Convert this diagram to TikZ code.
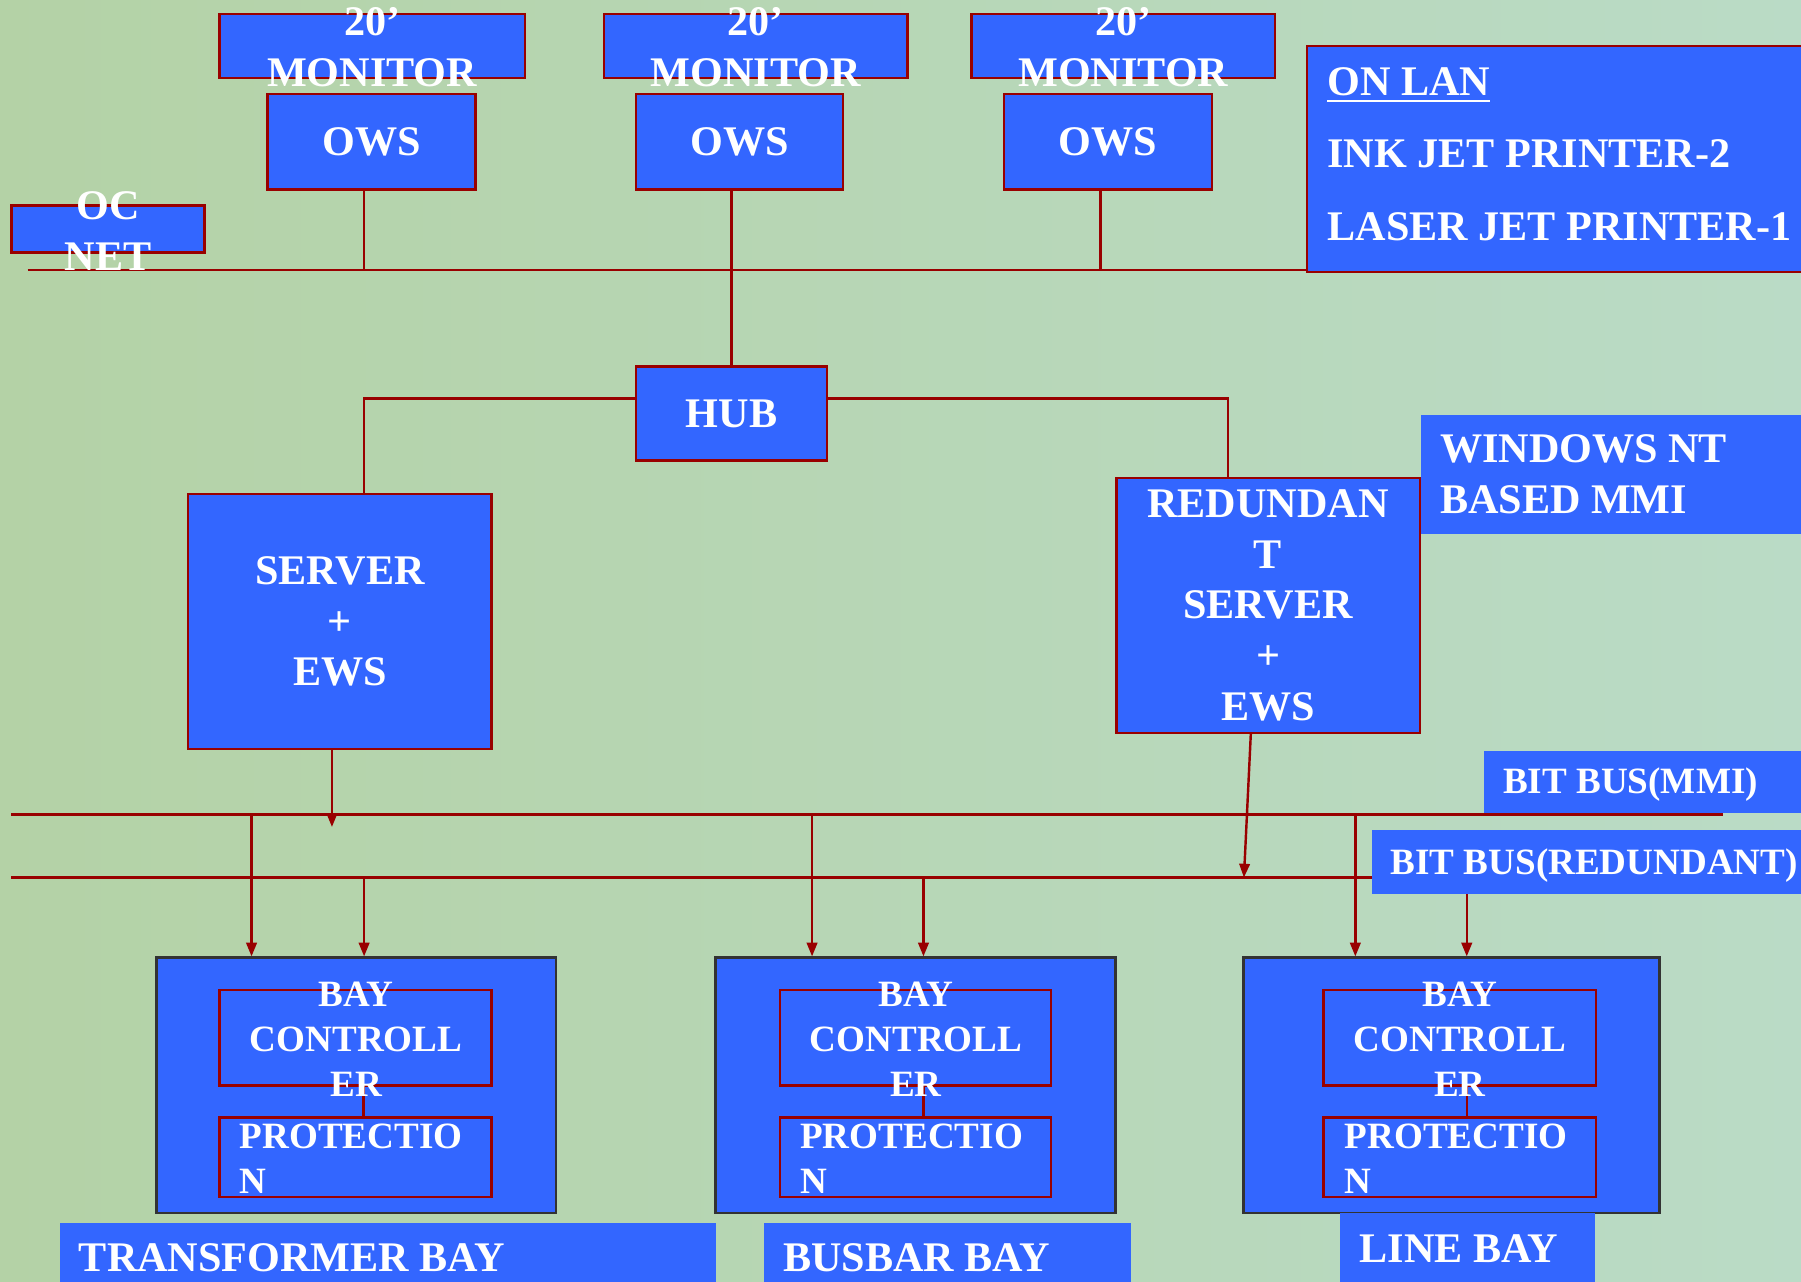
\documentclass[tikz,border=0pt]{standalone}
\usepackage{fontspec}
\setmainfont{Liberation Serif}
\usetikzlibrary{arrows.meta,backgrounds}

\definecolor{panelblue}{RGB}{51,102,255}
\definecolor{wirered}{RGB}{153,0,0}
\definecolor{baygrey}{RGB}{51,51,51}
\definecolor{bgleft}{RGB}{180,210,166}
\definecolor{bgmid}{RGB}{200,222,192}
\definecolor{bgright}{RGB}{186,219,198}

\newcommand\lblbig{\fontsize{10.44pt}{12.52pt}\selectfont\bfseries}
\newcommand\lblsmall{\fontsize{9.19pt}{11.1pt}\selectfont\bfseries}
\newcommand\lblwide{\fontsize{10.44pt}{17.93pt}\selectfont\bfseries}

\tikzset{
  panel/.style={draw=wirered, fill=panelblue, line width=0.6pt, inner sep=0pt,
    text=white, font=\lblbig, align=center},
  plate/.style={fill=panelblue, inner sep=0pt},
  baybox/.style={draw=baygrey, fill=panelblue, line width=0.7pt, inner sep=0pt},
  boxtext/.style={text=white, font=\lblbig, inner sep=0pt, align=center},
  boxtextsm/.style={text=white, font=\lblsmall, inner sep=0pt, align=center},
  link/.style={draw=wirered, line width=0.6pt},
  busdrop/.style={link, -{Triangle[length=3.4pt,width=2.6pt]}},
}

\begin{document}
\begin{tikzpicture}[x=0.01cm, y=-0.01cm]
\useasboundingbox (0,0) rectangle (1568,1116);
\begin{pgfonlayer}{background}
\shade[left color=bgleft, middle color=bgmid, right color=bgright] (0,0) rectangle (1568,1116);
\end{pgfonlayer}
\clip (0,0) rectangle (1568,1116);

% workstations
\node[panel, minimum width=2.66cm, minimum height=0.56cm] (mon1) at (324,40) {};
\node[panel, minimum width=2.64cm, minimum height=0.56cm] (mon2) at (658,40) {};
\node[panel, minimum width=2.64cm, minimum height=0.56cm] (mon3) at (978,40) {};
\node[panel, minimum width=1.81cm, minimum height=0.83cm] (ows1) at (323.5,123.5) {OWS};
\node[panel, minimum width=1.80cm, minimum height=0.83cm] (ows2) at (644,123.5) {OWS};
\node[panel, minimum width=1.81cm, minimum height=0.83cm] (ows3) at (964.5,123.5) {OWS};
\node[panel, minimum width=1.68cm, minimum height=0.41cm] (ocnet) at (94,199.5) {};
\node[panel, minimum width=4.42cm, minimum height=1.97cm] (onlan) at (1359,138.5) {};

% hub and servers
\node[panel, minimum width=1.66cm, minimum height=0.82cm] (hub) at (637,360) {HUB};
\node[panel, minimum width=2.64cm, minimum height=2.22cm] (server) at (296,541) {SERVER\\+\\EWS};
\node[panel, minimum width=2.64cm, minimum height=2.22cm] (rserver) at (1104,527)
  {REDUNDAN\\T\\SERVER\\+\\EWS};
\node[plate, minimum width=3.43cm, minimum height=1.04cm] (winnt) at (1408.5,413) {};
\node[plate, minimum width=2.88cm, minimum height=0.54cm] (mmitag) at (1436,681) {};
\node[plate, minimum width=3.85cm, minimum height=0.55cm] (redtag) at (1387.5,750.5) {};

% bays
\node[baybox, minimum width=3.48cm, minimum height=2.22cm] (tbay) at (310,945) {};
\node[panel, minimum width=2.37cm, minimum height=0.83cm] (tctrl) at (309.5,903.5) {};
\node[panel, minimum width=2.37cm, minimum height=0.69cm] (tprot) at (309.5,1007.5) {};
\node[baybox, minimum width=3.48cm, minimum height=2.22cm] (bbay) at (797,945) {};
\node[panel, minimum width=2.36cm, minimum height=0.83cm] (bctrl) at (797,903.5) {};
\node[panel, minimum width=2.36cm, minimum height=0.69cm] (bprot) at (797,1007.5) {};
\node[baybox, minimum width=3.62cm, minimum height=2.22cm] (lbay) at (1264,945) {};
\node[panel, minimum width=2.37cm, minimum height=0.83cm] (lctrl) at (1271,903.5) {};
\node[panel, minimum width=2.37cm, minimum height=0.69cm] (lprot) at (1271,1007.5) {};
\draw[link] ([xshift=0.07cm]tctrl.south) -- ([xshift=0.07cm]tprot.north);
\draw[link] ([xshift=0.07cm]bctrl.south) -- ([xshift=0.07cm]bprot.north);
\draw[link] ([xshift=0.06cm]lctrl.south) -- ([xshift=0.06cm]lprot.north);
\node[plate, minimum width=5.71cm, minimum height=0.60cm] (ttag) at (337.5,1095) {};
\node[plate, minimum width=3.20cm, minimum height=0.60cm] (btag) at (825,1095) {};
\node[plate, minimum width=2.22cm, minimum height=0.69cm] (ltag) at (1278,1090.5) {};

% texts
\node[boxtext] (mon1txt) at (324,41) {20’\\MONITOR};
\node[boxtext] (mon2txt) at (658,41) {20’\\MONITOR};
\node[boxtext] (mon3txt) at (978,41) {20’\\MONITOR};
\node[boxtext] (ocnettxt) at (94,201) {OC\\NET};
\node[boxtext, font=\lblwide, align=left, anchor=west] (onlantxt) at (1155,134)
  {\underline{ON LAN}\\INK JET PRINTER-2\\LASER JET PRINTER-1};
\node[boxtext, align=left, anchor=west] (winnttxt) at (1253,413) {WINDOWS NT\\BASED MMI};
\node[boxtextsm, anchor=base west] (mmitxt) at (1308,691) {BIT BUS(MMI)};
\node[boxtextsm, anchor=base west] (redtxt) at (1210,761) {BIT BUS(REDUNDANT)};
\node[boxtextsm] (tctrltxt) at (310,905) {BAY\\CONTROLL\\ER};
\node[boxtextsm] (bctrltxt) at (797.5,905) {BAY\\CONTROLL\\ER};
\node[boxtextsm] (lctrltxt) at (1271,905) {BAY\\CONTROLL\\ER};
\node[boxtextsm, align=left, anchor=west] (tprottxt) at (208,1009) {PROTECTIO\\N};
\node[boxtextsm, align=left, anchor=west] (bprottxt) at (696,1009) {PROTECTIO\\N};
\node[boxtextsm, align=left, anchor=west] (lprottxt) at (1170,1009) {PROTECTIO\\N};
\node[boxtext, anchor=base west] (ttagtxt) at (68,1107) {TRANSFORMER BAY};
\node[boxtext, anchor=base west] (btagtxt) at (681,1107) {BUSBAR BAY};
\node[boxtext, anchor=base west] (ltagtxt) at (1183,1099) {LINE BAY};

% networks
\coordinate (lanL) at (24,235);
\coordinate (mmiL) at (10,709);
\coordinate (mmiR) at (1500,709);
\coordinate (redL) at (10,764);
\coordinate (srvtip) at (289,720);
\coordinate (rsrvtip) at (1083,764);
\coordinate (ows1tap) at ([xshift=-0.065cm]ows1.south);
\coordinate (ows3tap) at ([xshift=-0.065cm]ows3.south);
\coordinate (srvtop) at ([xshift=0.21cm]server.north);
\coordinate (rsrvtop) at ([xshift=-0.35cm]rserver.north);
\coordinate (rsrvbot) at ([xshift=-0.15cm]rserver.south);
\coordinate (tmmi) at (219,709);
\coordinate (tred) at (317,764);
\coordinate (bmmi) at (707,709);
\coordinate (bred) at (804,764);
\coordinate (lmmi) at (1180,709);
\coordinate (lred) at (1277,764);
\begin{pgfonlayer}{background}
\draw[link] (lanL) -- (lanL -| onlan.west);
\draw[link] (ows1tap) -- (ows1tap |- lanL);
\draw[link] (ows2.south -| hub.north) -- (hub.north);
\draw[link] (ows3tap) -- (ows3tap |- lanL);
\draw[link] ([yshift=0.13cm]hub.west) -| (srvtop);
\draw[link] ([yshift=0.13cm]hub.east) -| (rsrvtop);
\draw[link] (mmiL) -- (mmiR);
\draw[link] (redL) -- (redL -| redtag.west);
\draw[busdrop] (server.south -| srvtip) -- (srvtip);
\draw[busdrop] (rsrvbot) -- (rsrvtip);
\draw[busdrop] (tmmi) -- (tmmi |- tbay.north);
\draw[busdrop] (tred) -- (tred |- tbay.north);
\draw[busdrop] (bmmi) -- (bmmi |- bbay.north);
\draw[busdrop] (bred) -- (bred |- bbay.north);
\draw[busdrop] (lmmi) -- (lmmi |- lbay.north);
\draw[busdrop] (lred) -- (lred |- lbay.north);
\end{pgfonlayer}
\end{tikzpicture}
\end{document}
